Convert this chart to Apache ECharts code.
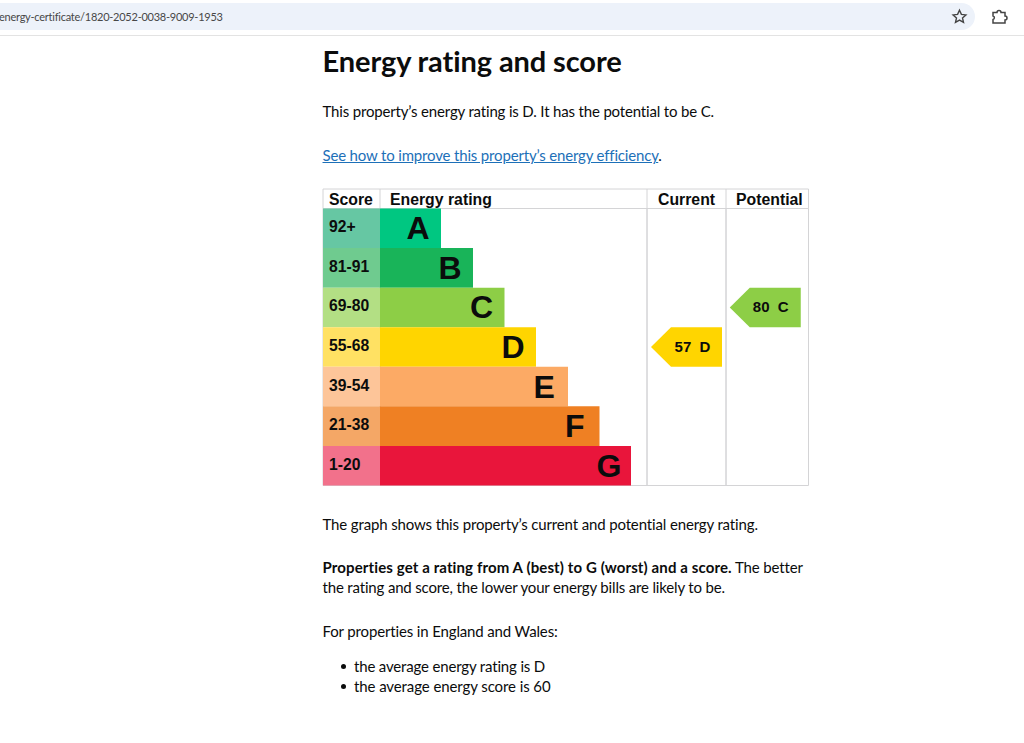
<!DOCTYPE html>
<html><head><meta charset="utf-8">
<style>
html,body{margin:0;padding:0;background:#fff;width:1024px;height:743px;overflow:hidden}
#chart{position:absolute;left:0;top:0;width:1024px;height:743px}
.t{position:absolute;left:322.5px;white-space:nowrap;font-family:Lato,sans-serif;font-size:15px;line-height:20px;color:#0b0c0c;letter-spacing:-.14px}
.t b{letter-spacing:.12px}
h1{position:absolute;left:322.5px;top:41px;margin:0;white-space:nowrap;font-family:Lato,sans-serif;font-size:29px;line-height:40px;font-weight:700;color:#0b0c0c;letter-spacing:-.1px}
a{color:#1d70b8;text-decoration:underline}
#bar{position:absolute;left:-20px;top:3px;width:995px;height:27px;border-radius:14px;background:#edf2fa}
#line{position:absolute;left:0;top:35px;width:1024px;height:1px;background:#e3e3e3}
#url{position:absolute;left:-1px;top:8px;font-family:Lato,sans-serif;font-size:11px;line-height:17px;color:#474747;white-space:nowrap;letter-spacing:-.25px}
svg.i{position:absolute}
.b{position:absolute;left:340.5px;width:5px;height:5px;border-radius:50%;background:#0b0c0c}
</style></head><body>
<div id="bar"></div><div id="line"></div>
<div id="url">energy-certificate/1820-2052-0038-9009-1953</div>
<svg class="i" style="left:951px;top:8px" width="17" height="17" viewBox="0 0 17 17"><path d="M8.5 2.2l1.9 4.2 4.5.5-3.4 3 1 4.5-4-2.3-4 2.3 1-4.5-3.4-3 4.5-.5z" fill="none" stroke="#444" stroke-width="1.4"/></svg>
<svg class="i" style="left:991px;top:8px" width="17" height="17" viewBox="0 0 17 17"><path d="M2 4.5h4a2 2 0 0 1 4 0h4v3.5a2 2 0 0 1 0 4V15H2V11.5a1.8 1.8 0 0 0 0-3.5z" fill="none" stroke="#444" stroke-width="1.5"/></svg>
<div id="chart"></div>
<h1>Energy rating and score</h1>
<div class="t" style="top:101px;letter-spacing:-.165px">This property’s energy rating is D. It has the potential to be C.</div>
<div class="t" style="top:145px;letter-spacing:-.165px"><a href="#">See how to improve this property’s energy efficiency</a>.</div>
<div class="t" style="top:514px">The graph shows this property’s current and potential energy rating.</div>
<div class="t" style="top:557px"><b>Properties get a rating from A (best) to G (worst) and a score.</b> The better</div>
<div class="t" style="top:577px;letter-spacing:-.165px">the rating and score, the lower your energy bills are likely to be.</div>
<div class="t" style="top:621px">For properties in England and Wales:</div>
<div class="t" style="top:656px;left:354px;letter-spacing:-.165px">the average energy rating is D</div>
<div class="t" style="top:676px;left:354px;letter-spacing:-.09px">the average energy score is 60</div>
<div class="b" style="top:664px"></div>
<div class="b" style="top:684px"></div>
<script src="https://cdn.jsdelivr.net/npm/echarts@6/dist/echarts.min.js"></script>
<script>
const ratings = ['A','B','C','D','E','F','G'];
const scoreBands = ['92+','81-91','69-80','55-68','39-54','21-38','1-20'];
const barLengths = [61,93,124.5,156,188,219.5,251];
const ratingColors = ['#00c781','#19b459','#8dce46','#ffd500','#fcaa65','#ef8023','#e9153b'];
const bandColors = ['#66c7a3','#6fcb8f','#b3df84','#ffe163','#fdc599','#f4a766','#f2718b'];
const headers = ['Score','Energy rating','Current','Potential'];
const currentRating = {score:57, letter:'D'};
const potentialRating = {score:80, letter:'C'};

const font = '"Liberation Sans",Arial,sans-serif';
const border = '#d4d4d6';
const gridTop = 208.5, gridH = 277;
const columns = [[323,57],[380,267],[647,79],[726,82.5]];
const pin = 'path://M0 20 L20 0 L71 0 L71 40 L20 40 Z';
const hdr = [329,390,658,736];
const lines = [[323,189,808.5,189],[323,208.5,808.5,208.5],[323,189,323,208.5],[380,189,380,208.5],[647,189,647,208.5],[726,189,726,208.5],[808.5,189,808.5,208.5]];

const chart = echarts.init(document.getElementById('chart'), null, {renderer:'svg'});
chart.setOption({
  animation:false,
  grid: columns.map(c=>({left:c[0],width:c[1],top:gridTop,height:gridH,show:true,borderColor:border,borderWidth:1,backgroundColor:'transparent'})),
  xAxis: [
    {gridIndex:0,type:'value',min:0,max:1,show:false},
    {gridIndex:1,type:'value',min:0,max:267,show:false},
    {gridIndex:2,type:'value',min:0,max:1,show:false},
    {gridIndex:3,type:'value',min:0,max:1,show:false}
  ],
  yAxis: [0,1,2,3].map(i=>({gridIndex:i,type:'category',data:ratings,inverse:true,show:false})),
  series: [
    {type:'bar',xAxisIndex:0,yAxisIndex:0,barWidth:'100%',silent:true,
     data:scoreBands.map((s,i)=>({value:1,name:s,itemStyle:{color:bandColors[i]}})),
     label:{show:true,position:'insideLeft',distance:6,offset:[0,-1.5],formatter:p=>p.name,fontFamily:font,fontWeight:'bold',fontSize:15.7,color:'#0b0c0c'}},
    {type:'bar',xAxisIndex:1,yAxisIndex:1,barWidth:'100%',silent:true,
     data:barLengths.map((v,i)=>({value:v,name:ratings[i],itemStyle:{color:ratingColors[i]}})),
     label:{show:true,position:'insideRight',distance:34.5,align:'left',offset:[0,0],formatter:p=>p.name,fontFamily:font,fontWeight:'bold',fontSize:32,color:'#0b0c0c'}},
    {type:'scatter',xAxisIndex:2,yAxisIndex:2,symbol:pin,symbolSize:[71,39.5],silent:true,
     data:[{value:[0.5,currentRating.letter],name:currentRating.score+'  '+currentRating.letter}],
     itemStyle:{color:ratingColors[ratings.indexOf(currentRating.letter)],opacity:1},
     label:{show:true,position:'inside',offset:[6,-1],formatter:p=>p.name,fontFamily:font,fontWeight:'bold',fontSize:15,color:'#0b0c0c'}},
    {type:'scatter',xAxisIndex:3,yAxisIndex:3,symbol:pin,symbolSize:[71,39.5],symbolOffset:[-2,0],silent:true,
     data:[{value:[0.5,potentialRating.letter],name:potentialRating.score+'  '+potentialRating.letter}],
     itemStyle:{color:ratingColors[ratings.indexOf(potentialRating.letter)],opacity:1},
     label:{show:true,position:'inside',offset:[5.5,-1],formatter:p=>p.name,fontFamily:font,fontWeight:'bold',fontSize:15,color:'#0b0c0c'}}
  ],
  graphic: [
    ...lines.map(l=>({type:'line',shape:{x1:l[0],y1:l[1],x2:l[2],y2:l[3]},style:{stroke:border,lineWidth:1},silent:true})),
    ...headers.map((t,i)=>({type:'text',left:hdr[i],top:191.5,silent:true,
      style:{text:t,font:'bold 15.8px '+font,fill:'#0b0c0c'}}))
  ]
});
</script></body></html>
